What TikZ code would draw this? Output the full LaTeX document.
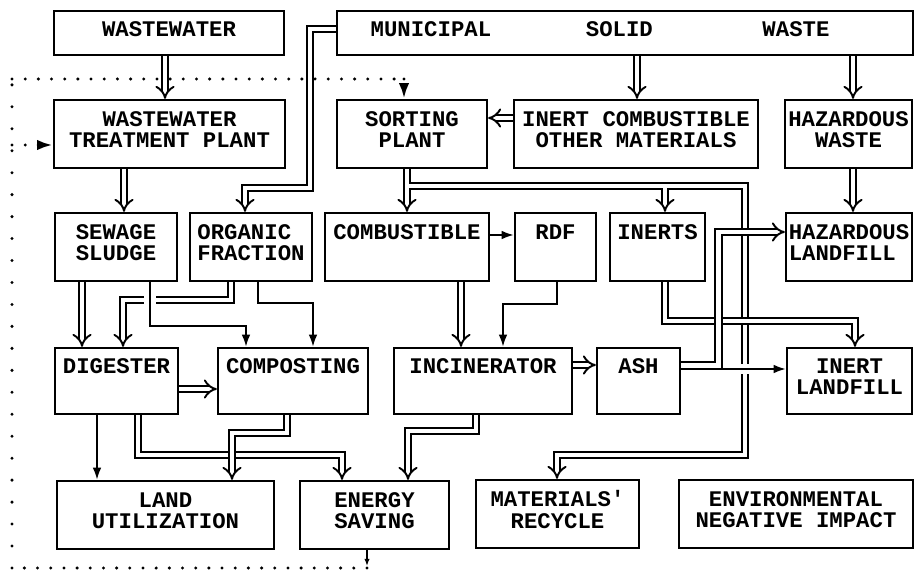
\documentclass[tikz,border=0pt]{standalone}
\usepackage{fontspec}
\usepackage{tikz}
\usetikzlibrary{arrows.meta,backgrounds}
\newfontfamily\plotfont{Liberation Mono}

\tikzset{
  box/.style n args={2}{draw, line width=1.3pt, minimum width=#1*0.02cm,
    minimum height=#2*0.02cm, inner sep=0pt, align=center, text depth=5pt,
    font=\plotfont\bfseries\fontsize{12.7}{12.2}\selectfont},
  dbl/.style={double, double distance=2.6pt, line width=1.1pt, -{Implies[scale=1.3]}},
  arr/.style={line width=1.2pt, -{Latex[length=7pt,width=5pt]}},
  halo/.style={preaction={draw=white, line width=#1, -}},
  fbh/.style={line width=1.9pt, line cap=round, dash pattern=on 0pt off 7.5pt},
  fbv/.style={line width=1.9pt, line cap=round, dash pattern=on 0pt off 12.5pt},
}

\begin{document}
\begin{tikzpicture}[x=0.02cm, y=-0.02cm]
    \useasboundingbox (0,0) rectangle (915,570);

    % sources
    \node[box={230}{44}] (ww) at (169,33) {WASTEWATER};
    \node[box={576}{44}] (msw) at (625,33)
        {MUNICIPAL\hspace*{53.9pt}SOLID\hspace*{62.4pt}WASTE\hspace*{28.4pt}};

    % first treatment
    \node[box={231}{68}] (wwtp) at (169.5,134) {WASTEWATER\\TREATMENT PLANT};
    \node[box={150}{68}] (sort) at (412,134) {SORTING\\PLANT};
    \node[box={244}{68}] (icom) at (636,134) {INERT COMBUSTIBLE\\OTHER MATERIALS};
    \node[box={127}{68}] (hazw) at (848.5,134) {HAZARDOUS\\WASTE};

    % fractions
    \node[box={122}{68}] (sludge) at (116,247) {SEWAGE\\SLUDGE};
    \node[box={122}{68}, align=left] (organic) at (251,247) {ORGANIC\\FRACTION};
    \node[box={164}{68}] (comb) at (407,247) {COMBUSTIBLE\\~};
    \node[box={81}{68}] (rdf) at (555.5,247) {RDF\\~};
    \node[box={95}{68}] (inerts) at (657.5,247) {INERTS\\~};
    \node[box={126}{68}, align=left] (hazl) at (849,247) {HAZARDOUS\\LANDFILL};

    % processes
    \node[box={123}{66}] (dig) at (116.5,381) {DIGESTER\\~};
    \node[box={150}{66}] (comp) at (293,381) {COMPOSTING\\~};
    \node[box={178}{66}] (inc) at (483,381) {INCINERATOR\\~};
    \node[box={83}{66}] (ash) at (638.5,381) {ASH\\~};
    \node[box={125}{66}] (inl) at (849.5,381) {INERT\\LANDFILL};

    % results
    \node[box={217}{68}] (land) at (165.5,515) {LAND\\UTILIZATION};
    \node[box={149}{68}] (energy) at (374.5,515) {ENERGY\\SAVING};
    \node[box={163}{68}] (recyc) at (557.5,514) {MATERIALS'\\RECYCLE};
    \node[box={234}{68}] (env) at (796,514) {ENVIRONMENTAL\\NEGATIVE IMPACT};

    \begin{scope}[on background layer]
    % wastewater line
    \draw[dbl] (165,0 |- ww.south) -- (165,0 |- wwtp.north);
    \draw[dbl] (124,0 |- wwtp.south) -- (124,0 |- sludge.north);
    \draw[dbl] (82,0 |- sludge.south) -- (82,0 |- dig.north);
    \draw[dbl] (231,0 |- organic.south) -- (231,300) -- (123,300) -- (123,0 |- dig.north);
    \draw[arr, halo=7pt] (150,0 |- sludge.south) -- (150,326) -- (246,326) -- (246,0 |- comp.north);
    \draw[arr] (258,0 |- organic.south) -- (258,303) -- (313,303) -- (313,0 |- comp.north);
    \draw[dbl] (dig.east |- 0,389) -- (comp.west |- 0,389);
    \draw[arr] (97,0 |- dig.south) -- (97,0 |- land.north);
    \draw[dbl] (138,0 |- dig.south) -- (138,455) -- (342,455) -- (342,0 |- energy.north);
    \draw[dbl, halo=3pt] (287,0 |- comp.south) -- (287,433) -- (232,433) -- (232,0 |- land.north);

    % municipal solid waste
    \draw[dbl] (msw.west |- 0,29) -- (310,29) -- (310,188) -- (245,188) -- (245,0 |- organic.north);
    \draw[dbl] (637,0 |- msw.south) -- (637,0 |- icom.north);
    \draw[dbl] (853,0 |- msw.south) -- (853,0 |- hazw.north);
    \draw[dbl] (853,0 |- hazw.south) -- (853,0 |- hazl.north);
    \draw[dbl] (icom.west |- 0,118) -- (sort.east |- 0,118);

    % sorting plant outputs (one tree, tips added after)
    \draw[dbl, -] (407,0 |- sort.south) -- (407,200)
        (407,186) -- (745,186) -- (745,455) -- (557,455) -- (557,466)
        (665,186) -- (665,200);
    \draw[dbl] (407,200) -- (407,0 |- comb.north);
    \draw[dbl] (665,200) -- (665,0 |- inerts.north);
    \draw[dbl] (557,466) -- (557,0 |- recyc.north);

    % combustible line
    \draw[arr] (comb.east |- 0,235) -- (rdf.west |- 0,235);
    \draw[dbl] (461,0 |- comb.south) -- (461,0 |- inc.north);
    \draw[arr] (557,0 |- rdf.south) -- (557,304) -- (503,304) -- (503,0 |- inc.north);
    \draw[dbl] (inc.east |- 0,365) -- (ash.west |- 0,365);
    \draw[dbl] (476,0 |- inc.south) -- (476,431) -- (408,431) -- (408,0 |- energy.north);

    % inerts and ash to landfill
    \draw[dbl, halo=2.5pt] (665,0 |- inerts.south) -- (665,321) -- (855,321) -- (855,0 |- inl.north);
    \draw[arr, halo=6pt] (ash.east |- 0,369) -- (inl.west |- 0,369);
    \draw[dbl, halo=1.5pt] (ash.east |- 0,365.5) -- (718.5,365.5) -- (718.5,232) -- (hazl.west |- 0,232);

    % energy feedback
    \coordinate (fbb) at (367,568);
    \coordinate (fbbl) at (12,568);
    \coordinate (fbtl) at (12,79);
    \coordinate (fbtr) at (404,79);
    \coordinate (fbm) at (12,145);
    \draw[-{Latex[length=4pt,width=3pt]}, line width=0.9pt] (367,0 |- energy.south) -- (367,566);
    \draw[fbh] (fbb) -- (fbbl);
    \draw[fbv] (fbbl) -- (fbtl);
    \draw[fbh] (fbtl) -- (fbtr);
    \draw[fbh, -{Latex[length=9pt,width=6pt]}] (fbtr) -- (fbtr |- sort.north);
    \draw[fbh, -{Latex[length=9pt,width=6pt]}] (fbm) -- (fbm -| wwtp.west);
    \end{scope}
\end{tikzpicture}
\end{document}
